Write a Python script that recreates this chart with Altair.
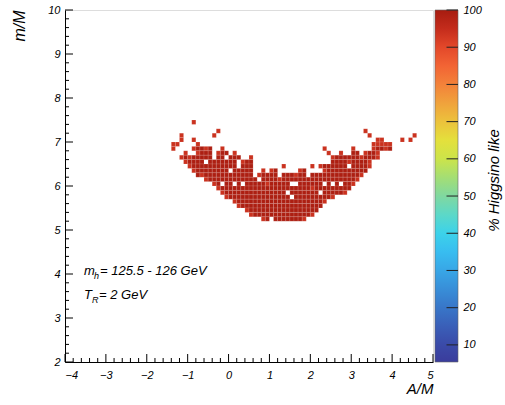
import altair as alt
import pandas as pd

# ---------------- data ----------------
X0 = -1.5      # left edge of column 0
BIN = 0.1      # bin width in x and y

row_y = [7.4, 7.3, 7.2, 7.1, 7.0, 6.9, 6.8, 6.7, 6.6, 6.5, 6.4, 6.3,
         6.2, 6.1, 6.0, 5.9, 5.8, 5.7, 5.6, 5.5, 5.4, 5.3, 5.2]
row_cells = [
    "6",
    "",
    "12,48",
    "3,11,49,60",
    "3,6,51-52,57,59",
    "1-2,7,50-54",
    "1,6-10,13,38,45,50-54",
    "4,7-10,12-14,16,39,42,45-46,48-51",
    "3-10,12-13,15-17,20,40-51",
    "4-8,10-16,18-20,40-49",
    "5-16,18-20,28,35,37-43,45-49",
    "6-14,16-20,23,25-26,32-33,38-48",
    "7-20,22-26,28-33,35-47",
    "9-21,23-46",
    "11-12,14-15,17,19-29,32-37,39,41,43-45",
    "12-44",
    "13-28,30-36,38-43",
    "14-29,31-40",
    "16-38",
    "17-37",
    "19-36",
    "20-35",
    "23-24,26-33",
]
# cells with a somewhat lower percentage (brighter red)
row_light = [
    "6", "", "12,48", "3,11,49,60", "3,6,51-52,57,59", "1-2,7,50-54",
    "1,6,9,13,38,45,50,53", "4,7,12,16,39,42,48,51", "3,5,20,40,47,51",
    "4,18,44,49", "5,28,35,37,49", "6,23,25,32,38", "8,22,31,47", "9,27,46",
    "11,24,45", "12,35", "13,43", "14,40", "16,38", "17", "19", "20,35", "23,33",
]
z_dark = 99.0
z_light = 94.0

# colour palette of the z axis
pal_vals = [5.4, 10, 15, 20, 25, 30, 35, 40, 45, 50, 55, 60, 65, 70, 75, 80, 85, 90, 95, 100]
pal_cols = ["#3a3c9c", "#3a4aa8", "#3a5fb8", "#3876c8", "#388ed8", "#38a6e6",
            "#38bdf0", "#3cd2ea", "#5cd8c8", "#80d8a0", "#a4de74", "#cce44a",
            "#e4e03c", "#ecc23c", "#f0a23c", "#f3823a", "#f26434", "#e3482a",
            "#c42c1c", "#a71c10"]
z_ticks = [10, 20, 30, 40, 50, 60, 70, 80, 90, 100]

x_major = [-4, -3, -2, -1, 0, 1, 2, 3, 4, 5]
y_major = [2, 3, 4, 5, 6, 7, 8, 9, 10]


def cols(s):
    out = []
    for part in s.split(","):
        if not part:
            continue
        if "-" in part:
            a, b = part.split("-")
            out.extend(range(int(a), int(b) + 1))
        else:
            out.append(int(part))
    return out


recs = []
for y, s, l in zip(row_y, row_cells, row_light):
    light = set(cols(l))
    for c in cols(s):
        x = X0 + BIN * c
        recs.append({"x0": round(x, 3), "x1": round(x + BIN, 3),
                     "y0": y, "y1": round(y + BIN, 3),
                     "z": z_light if c in light else z_dark})
df = pd.DataFrame(recs)

x_minor = [round(a + 0.2 * k, 2) for a in x_major[:-1] for k in range(1, 5)]
y_minor = [round(a + 0.2 * k, 2) for a in y_major[:-1] for k in range(1, 5)]

# ---------------- chart ----------------
W, H = 368, 352
FONT = "Liberation Sans"

xs = alt.Scale(domain=[-4, 5], nice=False, zero=False)
ys = alt.Scale(domain=[2, 10], nice=False, zero=False)
cs = alt.Scale(domain=pal_vals, range=pal_cols, clamp=True)
cbx = alt.Scale(domain=[0, 1], range=[W + 2, W + 25], nice=False, zero=False)
cby = alt.Scale(domain=[pal_vals[0], 100], range=[H, 0], nice=False, zero=False)

cells = alt.Chart(df).mark_rect(stroke="#ffffff", strokeWidth=0.4, strokeOpacity=0.3).encode(
    x=alt.X("x0:Q", scale=xs, axis=alt.Axis(
        values=x_major, ticks=False, grid=False, domainColor="black", domainWidth=1,
        labelFont=FONT, labelFontStyle="italic", labelFontSize=11, labelColor="black",
        labelPadding=7, title="A/M", titleFont=FONT, titleFontStyle="italic",
        titleFontWeight="normal", titleFontSize=15, titleColor="black",
        titleAnchor="end", titleAlign="right", titleX=W, titleY=26,
        titleBaseline="middle")),
    x2="x1",
    y=alt.Y("y0:Q", scale=ys, axis=alt.Axis(
        values=y_major, ticks=False, grid=False, domainColor="black", domainWidth=1,
        labelFont=FONT, labelFontStyle="italic", labelFontSize=11, labelColor="black",
        labelPadding=5, title="m/M", titleFont=FONT, titleFontStyle="italic",
        titleFontWeight="normal", titleFontSize=16, titleColor="black",
        titleAngle=270, titleAlign="right", titleBaseline="middle",
        titleX=-46, titleY=0)),
    y2="y1",
    color=alt.Color("z:Q", scale=cs, legend=None),
)


def tick_layer(vals, horizontal, length):
    d = pd.DataFrame({"v": vals})
    base = alt.Chart(d).mark_rule(color="black", strokeWidth=1)
    if horizontal:
        return base.encode(x=alt.X("v:Q", scale=xs, axis=None),
                           y=alt.value(H), y2=alt.value(H - length))
    return base.encode(y=alt.Y("v:Q", scale=ys, axis=None),
                       x=alt.value(0), x2=alt.value(length))


ticks = [tick_layer(x_major, True, 8), tick_layer(x_minor, True, 4),
         tick_layer(y_major, False, 8), tick_layer(y_minor, False, 4)]

# colour bar
span = 100 - pal_vals[0]
grad = alt.LinearGradient(
    gradient="linear", x1=0, x2=0, y1=1, y2=0,
    stops=[alt.GradientStop(offset=(v - pal_vals[0]) / span, color=c)
           for v, c in zip(pal_vals, pal_cols)])
cb_df = pd.DataFrame({"a": [0.0], "b": [1.0], "lo": [pal_vals[0]], "hi": [100.0]})
cbar = alt.Chart(cb_df).mark_rect(color=grad, stroke="#666666", strokeWidth=0.6).encode(
    x=alt.X("a:Q", scale=cbx, axis=None),
    x2="b",
    y=alt.Y("lo:Q", scale=cby, axis=alt.Axis(
        orient="right", offset=25, values=z_ticks, ticks=False, domain=False, grid=False,
        labelFont=FONT, labelFontStyle="italic", labelFontSize=11, labelColor="black",
        labelPadding=5, title="% Higgsino like", titleFont=FONT, titleFontStyle="italic",
        titleFontWeight="normal", titleFontSize=15, titleColor="black",
        titleAngle=270, titleAlign="center", titleBaseline="middle",
        titleX=35, titleY=170)),
    y2="hi",
)
cbt_df = pd.DataFrame({"z": z_ticks, "a": [0.5] * len(z_ticks), "b": [1.0] * len(z_ticks)})
cb_ticks = alt.Chart(cbt_df).mark_rule(color="#222222", strokeWidth=1).encode(
    x=alt.X("a:Q", scale=cbx, axis=None),
    x2="b",
    y=alt.Y("z:Q", scale=cby, axis=None),
)


def label(txt, px, py, size):
    return alt.Chart(pd.DataFrame({"t": [txt]})).mark_text(
        font=FONT, fontStyle="italic", fontSize=size, align="left",
        baseline="alphabetic", color="black").encode(
        text="t:N", x=alt.value(px), y=alt.value(py))


annots = [
    label("m", 19, 265, 13), label("h", 29, 269, 9),
    label("= 125.5 - 126 GeV", 35, 265, 13),
    label("T", 19, 289, 13), label("R", 27, 293, 9),
    label("= 2 GeV", 34, 289, 13),
]

chart = alt.layer(cells, *ticks, cbar, cb_ticks, *annots).resolve_scale(
    x="independent", y="independent", color="independent"
).properties(
    width=W, height=H,
    autosize=alt.AutoSizeParams(type="none"),
    padding={"left": 65, "top": 10, "right": 72, "bottom": 43},
).configure_view(stroke="#9a9a9a", strokeWidth=1).configure(background="white")

chart.save("out.html", embed_options={"renderer": "svg", "actions": False})
